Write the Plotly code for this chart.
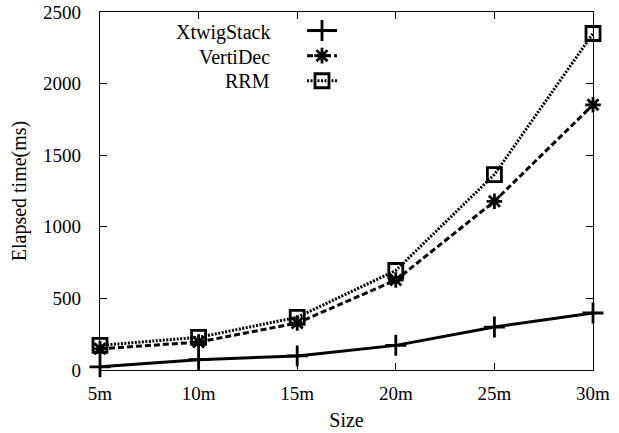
import plotly.graph_objects as go

sizes = [5, 10, 15, 20, 25, 30]
size_labels = ["5m", "10m", "15m", "20m", "25m", "30m"]
series_names = ["XtwigStack", "VertiDec", "RRM"]
xtwig = [22, 72, 98, 172, 300, 398]
vertidec = [148, 195, 328, 628, 1178, 1852]
rrm = [172, 228, 368, 695, 1365, 2350]
y_ticks = [0, 500, 1000, 1500, 2000, 2500]

FONT = "Liberation Serif"
values = [xtwig, vertidec, rrm]
dashes = ["solid", "6px,3px", "2px,1.5px"]
symbols = ["cross-thin-open", "asterisk-open", "square-open"]
msizes = [15, 13, 14]

fig = go.Figure()
for name, vals, d, s, ms in zip(series_names, values, dashes, symbols, msizes):
    fig.add_trace(go.Scatter(
        x=sizes, y=vals, mode="lines+markers", name=" ",
        line=dict(color="black", width=3, dash=d),
        marker=dict(symbol=s, size=ms, color="black",
                    line=dict(color="black", width=2.8)),
        cliponaxis=False,
    ))

L, R, T, B = 100, 26, 12, 63
W, H = 619, 433
pw, ph = W - L - R, H - T - B
row_y = [32, 57, 81]
for name, ypx in zip(series_names, row_y):
    fig.add_annotation(
        text=name, xref="paper", yref="paper",
        x=(272 - L) / pw, y=(H - B - ypx) / ph,
        xanchor="right", yanchor="middle", showarrow=False,
        font=dict(family=FONT, size=20, color="black"),
    )

axis_common = dict(
    showline=True, linecolor="black", linewidth=1.3, mirror="ticks",
    ticks="inside", ticklen=7, tickwidth=1.2, tickcolor="black",
    showgrid=False, zeroline=False, automargin=False,
    tickfont=dict(family=FONT, size=19, color="black"),
)
fig.update_xaxes(
    range=[5, 30], tickvals=sizes, ticktext=size_labels, ticklabelstandoff=6,
    title=dict(text="Size", font=dict(family=FONT, size=20, color="black"), standoff=10),
    **axis_common,
)
fig.update_yaxes(
    range=[0, 2500], tickvals=y_ticks, ticklabelstandoff=14,
    title=dict(text="Elapsed time(ms)", font=dict(family=FONT, size=20, color="black"), standoff=11),
    **axis_common,
)
fig.update_layout(
    template="none",
    width=W, height=H,
    margin=dict(l=L, r=R, t=T, b=B),
    plot_bgcolor="white", paper_bgcolor="white",
    showlegend=True,
    legend=dict(
        x=(302 - L) / pw, y=(H - B - 13) / ph, xanchor="left", yanchor="top",
        bgcolor="rgba(0,0,0,0)", borderwidth=0,
        font=dict(family=FONT, size=17, color="black"),
        tracegroupgap=0, itemwidth=30,
    ),
)
fig.write_html("out.html")
